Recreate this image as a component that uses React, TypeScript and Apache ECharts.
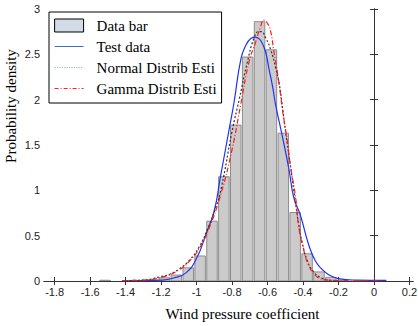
import React, { useEffect, useRef } from "react";
import * as echarts from "echarts";

// Histogram bins (centre of each bin) and their heights
const binWidth = 0.067;
const binCenters = [-1.516, -1.248, -1.181, -1.114, -1.047, -0.98, -0.913, -0.846, -0.779, -0.712, -0.645, -0.578, -0.511, -0.444, -0.377, -0.31, -0.243, -0.176];
const binHeights = [0.008, 0.01, 0.035, 0.065, 0.145, 0.276, 0.66, 1.15, 1.72, 2.47, 2.86, 2.55, 1.63, 0.755, 0.3, 0.1, 0.04, 0.01];

// Test data curve (blue solid)
const testX = [-1.42, -1.3, -1.2, -1.135, -1.06, -1.0, -0.95, -0.9, -0.868, -0.812, -0.788, -0.75, -0.722, -0.694, -0.668, -0.647, -0.629, -0.61, -0.592, -0.573, -0.554, -0.517, -0.48, -0.452, -0.414, -0.368, -0.33, -0.293, -0.255, -0.2, -0.1, 0.07];
const testY = [0.003, 0.005, 0.01, 0.03, 0.09, 0.25, 0.5, 0.78, 1.12, 1.72, 1.98, 2.45, 2.6, 2.675, 2.69, 2.67, 2.62, 2.52, 2.34, 2.16, 1.94, 1.6, 1.24, 0.92, 0.72, 0.4, 0.22, 0.13, 0.07, 0.026, 0.01, 0.006];

// Normal distribution estimate (black dotted)
const normX = [-1.4, -1.3, -1.2, -1.152, -1.1, -1.04, -0.984, -0.937, -0.89, -0.86, -0.8, -0.76, -0.713, -0.676, -0.65, -0.635, -0.61, -0.582, -0.554, -0.535, -0.52, -0.498, -0.47, -0.452, -0.424, -0.405, -0.377, -0.34, -0.293, -0.25, -0.2];
const normY = [0.005, 0.01, 0.05, 0.074, 0.13, 0.23, 0.38, 0.58, 0.82, 1.03, 1.65, 2.0, 2.42, 2.68, 2.75, 2.75, 2.68, 2.55, 2.35, 2.18, 1.98, 1.64, 1.26, 1.0, 0.62, 0.43, 0.23, 0.1, 0.03, 0.01, 0.004];

// Gamma distribution estimate (red dash-dot)
const gammaX = [-1.42, -1.3, -1.2, -1.1, -1.04, -0.984, -0.93, -0.862, -0.8, -0.75, -0.704, -0.666, -0.64, -0.62, -0.6, -0.582, -0.564, -0.545, -0.526, -0.517, -0.489, -0.47, -0.442, -0.424, -0.396, -0.368, -0.33, -0.283, -0.2, -0.1, 0.05];
const gammaY = [0.005, 0.01, 0.04, 0.12, 0.22, 0.36, 0.58, 0.965, 1.45, 1.958, 2.42, 2.64, 2.8, 2.877, 2.84, 2.75, 2.53, 2.31, 2.05, 1.9, 1.55, 1.26, 0.927, 0.6, 0.34, 0.173, 0.063, 0.015, 0.005, 0.002, 0.0];

const xTicks = [-1.8, -1.6, -1.4, -1.2, -1, -0.8, -0.6, -0.4, -0.2, 0, 0.2];
const yTicks = [0, 0.5, 1, 1.5, 2, 2.5, 3];

const seriesNames = ["Data bar", "Test data", "Normal Distrib Esti", "Gamma Distrib Esti"];

const zip = (xs: number[], ys: number[]) => xs.map((x, i) => [x, ys[i]]);

export default function App() {
  const ref = useRef<HTMLDivElement>(null);
  useEffect(() => {
    if (!ref.current) return;
    const chart = echarts.init(ref.current, undefined, { renderer: "svg" });
    const axisLine = { show: true, lineStyle: { color: "#333", width: 1 } };
    const tick = { show: true, inside: true, length: 4, customValues: [] as number[], lineStyle: { color: "#333" } };
    const labelFont = { fontFamily: "Liberation Sans, Arial, sans-serif", fontSize: 11, color: "#222" };
    const serif = "Liberation Serif, Times New Roman, serif";
    chart.setOption({
      animation: false,
      backgroundColor: "#fff",
      grid: { left: 44, right: 5, top: 9, bottom: 45, outerBoundsMode: "none", containLabel: false },
      legend: {
        orient: "vertical",
        left: 49,
        top: 12,
        backgroundColor: "#fff",
        borderColor: "#000",
        borderWidth: 1,
        borderRadius: 0,
        padding: [6, 5, 7, 5],
        itemWidth: 29,
        itemHeight: 13,
        itemGap: 6,
        textStyle: {
          fontFamily: serif,
          fontSize: 15,
          color: "#000",
          lineHeight: 13,
          padding: [0, 0, 0, 8],
        },
        data: [
          { name: seriesNames[0], icon: "rect", itemStyle: { color: "#d3dbe6", borderColor: "#000", borderWidth: 1 } },
          { name: seriesNames[1], itemStyle: { opacity: 0 }, lineStyle: { color: "#3a6fd0", width: 1, type: "solid" } },
          { name: seriesNames[2], itemStyle: { opacity: 0 }, lineStyle: { color: "#8fb4e6", width: 1.2, type: "dotted" } },
          { name: seriesNames[3], itemStyle: { opacity: 0 }, lineStyle: { color: "#ff2020", width: 1, type: [4, 2, 1, 2] } },
        ],
      },
      xAxis: [
        {
          type: "value",
          min: -1.86,
          max: 0.22,
          name: "Wind pressure coefficient",
          nameLocation: "middle",
          nameGap: 25,
          nameMoveOverlap: false,
          nameTextStyle: { fontFamily: serif, fontSize: 15, color: "#000", padding: [0, 0, 0, 28] },
          axisLine,
          axisTick: { ...tick, customValues: xTicks },
          axisLabel: { ...labelFont, margin: 5, customValues: xTicks },
          splitLine: { show: false },
        },
        {
          type: "value",
          position: "top",
          min: -1.86,
          max: 0.22,
          axisLine,
          axisTick: { ...tick, customValues: xTicks },
          axisLabel: { show: false, customValues: xTicks },
          splitLine: { show: false },
        },
      ],
      yAxis: [
        {
          type: "value",
          min: 0,
          max: 3,
          interval: 0.5,
          name: "Probability density",
          nameLocation: "middle",
          nameGap: 26,
          nameMoveOverlap: false,
          nameTextStyle: { fontFamily: serif, fontSize: 15, color: "#000", padding: [0, 0, 0, 78] },
          axisLine,
          axisTick: { ...tick, customValues: yTicks },
          axisLabel: { ...labelFont, margin: 4, customValues: yTicks },
          splitLine: { show: false },
        },
        {
          type: "value",
          position: "right",
          min: 0,
          max: 3,
          interval: 0.5,
          axisLine,
          axisTick: { ...tick, customValues: yTicks },
          axisLabel: { show: false },
          splitLine: { show: false },
        },
      ],
      series: [
        {
          name: seriesNames[0],
          type: "custom",
          data: zip(binCenters, binHeights),
          encode: { x: 0, y: 1 },
          clip: true,
          itemStyle: { color: "#cbcbcb", borderColor: "#8c8c8c" },
          renderItem: (_params: any, api: any) => {
            const x = api.value(0);
            const y = api.value(1);
            const p1 = api.coord([x - binWidth / 2, y]);
            const p2 = api.coord([x + binWidth / 2, 0]);
            return {
              type: "rect",
              shape: { x: p1[0] + 0.7, y: p1[1], width: p2[0] - p1[0] - 1.4, height: p2[1] - p1[1] },
              style: { fill: "#cbcbcb", stroke: "#8c8c8c", lineWidth: 1 },
            };
          },
        },
        {
          name: seriesNames[1],
          type: "line",
          symbol: "none",
          smooth: true,
          data: zip(testX, testY),
          lineStyle: { color: "#2233ee", width: 1.2, type: "solid" },
          itemStyle: { color: "#2233ee" },
        },
        {
          name: seriesNames[2],
          type: "line",
          symbol: "none",
          smooth: true,
          data: zip(normX, normY),
          lineStyle: { color: "#333", width: 1.2, type: [2, 2] },
          itemStyle: { color: "#333" },
        },
        {
          name: seriesNames[3],
          type: "line",
          symbol: "none",
          smooth: true,
          data: zip(gammaX, gammaY),
          lineStyle: { color: "#ff1a1a", width: 1.2, type: [5, 2, 1, 2] },
          itemStyle: { color: "#ff1a1a" },
        },
      ],
    });
    return () => chart.dispose();
  }, []);
  return <div ref={ref} style={{ position: "fixed", left: 0, top: 0, width: 418, height: 326 }} />;
}
